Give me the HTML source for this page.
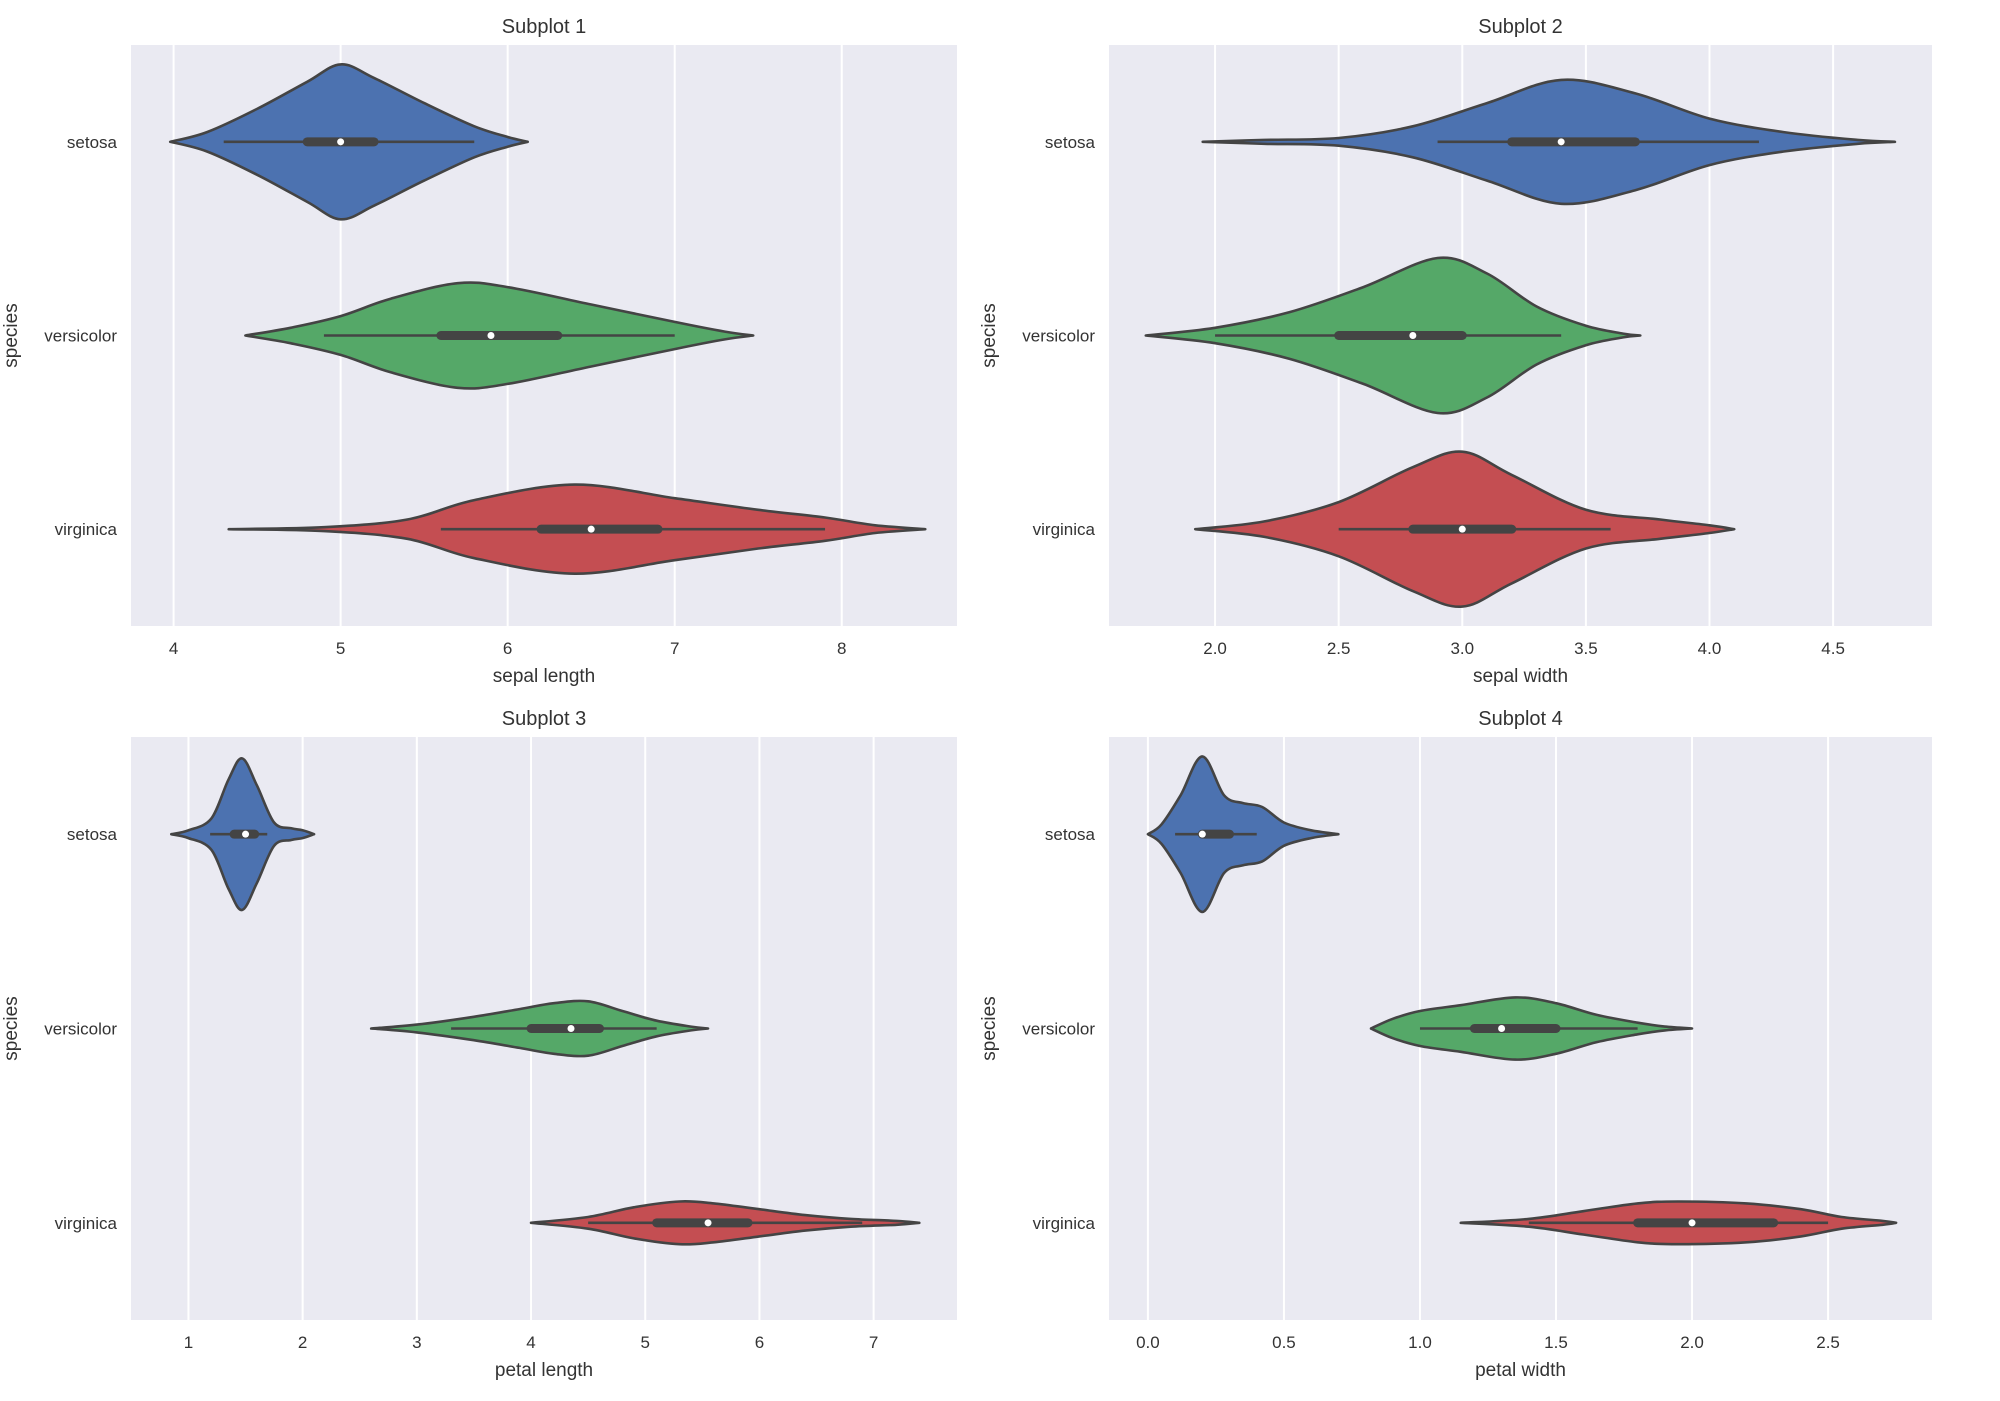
<!DOCTYPE html>
<html><head><meta charset="utf-8"><style>
html,body{margin:0;padding:0;background:#fff}
svg{display:block}
text{font-family:"Liberation Sans",sans-serif;fill:#333}
</style></head><body>
<svg id="fig" width="2000" height="1401" viewBox="0 0 2000 1401" xmlns="http://www.w3.org/2000/svg"></svg>
<script>
const species = ["setosa","versicolor","virginica"];
const colors = ["#4c72b0","#55a868","#c44e52"];
const titles = ["Subplot 1","Subplot 2","Subplot 3","Subplot 4"];
const xLabels = ["sepal length","sepal width","petal length","petal width"];
const xTicks1 = [4,5,6,7,8];
const xTickLabels1 = ["4","5","6","7","8"];
const xTicks2 = [2.0,2.5,3.0,3.5,4.0,4.5];
const xTickLabels2 = ["2.0","2.5","3.0","3.5","4.0","4.5"];
const xTicks3 = [1,2,3,4,5,6,7];
const xTickLabels3 = ["1","2","3","4","5","6","7"];
const xTicks4 = [0.0,0.5,1.0,1.5,2.0,2.5];
const xTickLabels4 = ["0.0","0.5","1.0","1.5","2.0","2.5"];
const xDomains = [[3.745,8.69],[1.571,4.90],[0.497,7.73],[-0.143,2.882]];

// density profiles: [value, half-width in category units]
const sepalLengthSetosa = [[3.98,0],[4.2,0.05],[4.5,0.17],[4.8,0.31],[5.0,0.40],[5.2,0.33],[5.5,0.2],[5.8,0.08],[6.0,0.025],[6.12,0]];
const sepalLengthVersicolor = [[4.43,0],[4.7,0.04],[5.0,0.1],[5.3,0.19],[5.7,0.27],[6.0,0.25],[6.5,0.16],[7.0,0.07],[7.3,0.02],[7.47,0]];
const sepalLengthVirginica = [[4.33,0],[4.9,0.01],[5.4,0.05],[5.8,0.15],[6.4,0.23],[7.0,0.16],[7.5,0.1],[7.9,0.06],[8.2,0.02],[8.5,0]];
const sepalWidthSetosa = [[1.95,0],[2.2,0.01],[2.5,0.02],[2.8,0.08],[3.1,0.2],[3.4,0.32],[3.7,0.25],[4.0,0.12],[4.3,0.05],[4.6,0.01],[4.75,0]];
const sepalWidthVersicolor = [[1.72,0],[2.0,0.04],[2.3,0.12],[2.6,0.25],[2.9,0.40],[3.1,0.32],[3.3,0.15],[3.5,0.05],[3.65,0.01],[3.72,0]];
const sepalWidthVirginica = [[1.92,0],[2.2,0.04],[2.5,0.14],[2.8,0.32],[3.0,0.40],[3.2,0.28],[3.5,0.1],[3.8,0.05],[4.0,0.02],[4.1,0]];
const petalLengthSetosa = [[0.85,0],[1.0,0.02],[1.2,0.08],[1.35,0.28],[1.47,0.39],[1.6,0.25],[1.75,0.06],[1.9,0.03],[2.0,0.02],[2.1,0]];
const petalLengthVersicolor = [[2.6,0],[3.0,0.02],[3.5,0.06],[3.9,0.1],[4.2,0.13],[4.5,0.14],[4.8,0.09],[5.1,0.04],[5.4,0.01],[5.55,0]];
const petalLengthVirginica = [[4.0,0],[4.5,0.03],[4.9,0.08],[5.3,0.11],[5.6,0.1],[6.0,0.07],[6.4,0.04],[6.8,0.02],[7.2,0.01],[7.4,0]];
const petalWidthSetosa = [[0.0,0],[0.05,0.05],[0.12,0.2],[0.2,0.40],[0.28,0.2],[0.35,0.16],[0.42,0.14],[0.5,0.06],[0.6,0.02],[0.7,0]];
const petalWidthVersicolor = [[0.82,0],[0.9,0.05],[1.0,0.09],[1.15,0.12],[1.35,0.16],[1.5,0.13],[1.65,0.07],[1.8,0.03],[1.9,0.01],[2.0,0]];
const petalWidthVirginica = [[1.15,0],[1.4,0.02],[1.6,0.06],[1.8,0.1],[1.95,0.11],[2.2,0.1],[2.4,0.07],[2.55,0.03],[2.7,0.01],[2.75,0]];
// box stats: [whiskerLow, q1, median, q3, whiskerHigh]
const boxSepalLength = [[4.3,4.8,5.0,5.2,5.8],[4.9,5.6,5.9,6.3,7.0],[5.6,6.2,6.5,6.9,7.9]];
const boxSepalWidth = [[2.9,3.2,3.4,3.7,4.2],[2.0,2.5,2.8,3.0,3.4],[2.5,2.8,3.0,3.2,3.6]];
const boxPetalLength = [[1.19,1.4,1.5,1.58,1.69],[3.3,4.0,4.35,4.6,5.1],[4.5,5.1,5.55,5.9,6.9]];
const boxPetalWidth = [[0.1,0.2,0.2,0.3,0.4],[1.0,1.2,1.3,1.5,1.8],[1.4,1.8,2.0,2.3,2.5]];

const panels = [
 {x:131,y:45,w:826,h:581,ticks:xTicks1,tl:xTickLabels1,prof:[sepalLengthSetosa,sepalLengthVersicolor,sepalLengthVirginica],box:boxSepalLength},
 {x:1109,y:45,w:823,h:581,ticks:xTicks2,tl:xTickLabels2,prof:[sepalWidthSetosa,sepalWidthVersicolor,sepalWidthVirginica],box:boxSepalWidth},
 {x:131,y:737,w:826,h:583,ticks:xTicks3,tl:xTickLabels3,prof:[petalLengthSetosa,petalLengthVersicolor,petalLengthVirginica],box:boxPetalLength},
 {x:1109,y:737,w:823,h:583,ticks:xTicks4,tl:xTickLabels4,prof:[petalWidthSetosa,petalWidthVersicolor,petalWidthVirginica],box:boxPetalWidth}
];
const NS="http://www.w3.org/2000/svg";
const svg=document.getElementById('fig');
function mk(tag,attrs,parent){const e=document.createElementNS(NS,tag);for(const k in attrs)e.setAttribute(k,attrs[k]);(parent||svg).appendChild(e);return e;}
function smooth(pts){let d="M"+pts[0][0]+","+pts[0][1];for(let i=0;i<pts.length-1;i++){const p0=pts[Math.max(0,i-1)],p1=pts[i],p2=pts[i+1],p3=pts[Math.min(pts.length-1,i+2)];const c1=[p1[0]+(p2[0]-p0[0])/6,p1[1]+(p2[1]-p0[1])/6];const c2=[p2[0]-(p3[0]-p1[0])/6,p2[1]-(p3[1]-p1[1])/6];d+=" C"+c1[0].toFixed(1)+","+c1[1].toFixed(1)+" "+c2[0].toFixed(1)+","+c2[1].toFixed(1)+" "+p2[0].toFixed(1)+","+p2[1].toFixed(1);}return d;}
panels.forEach((p,pi)=>{
  const g=mk('g',{});
  
  
  const [d0,d1]=xDomains[pi];
  const sx=v=>p.x+(v-d0)/(d1-d0)*p.w;
  const unit=p.h/3;
  const sy=c=>p.y+(c+0.5)*unit;
  const bg=mk('rect',{x:p.x,y:p.y,width:p.w,height:p.h,fill:'#eaeaf2'},g);
  
  
  p.ticks.forEach((t,i)=>{
    const gl=mk('line',{x1:sx(t),x2:sx(t),y1:p.y,y2:p.y+p.h,stroke:'#fff','stroke-width':2},g);
    
    
    const tx=mk('text',{x:sx(t),y:p.y+p.h+28,'text-anchor':'middle','font-size':17},g);
    tx.textContent=p.tl[i];
    
    
  });
  species.forEach((s,c)=>{
    const tx=mk('text',{x:p.x-14,y:sy(c)+6,'text-anchor':'end','font-size':17},g);
    tx.textContent=s;
    
    
    const prof=p.prof[c];
    const top=prof.map(q=>[sx(q[0]),sy(c)-q[1]*unit]);
    const bot=prof.slice().reverse().map(q=>[sx(q[0]),sy(c)+q[1]*unit]);
    const d=smooth(top)+" L"+smooth(bot).slice(1)+" Z";
    const v=mk('path',{d:d,fill:colors[c],stroke:'#444','stroke-width':2.6,'stroke-linejoin':'round'},g);
    
    
    const b=p.box[c];
    const w=mk('line',{x1:sx(b[0]),x2:sx(b[4]),y1:sy(c),y2:sy(c),stroke:'#444','stroke-width':2.6},g);
    
    
    const q=mk('line',{x1:sx(b[1]),x2:sx(b[3]),y1:sy(c),y2:sy(c),stroke:'#444','stroke-width':9,'stroke-linecap':'round'},g);
    
    
    const m=mk('circle',{cx:sx(b[2]),cy:sy(c),r:3.5,fill:'#fff'},g);
    
    
  });
  const t=mk('text',{x:p.x+p.w/2,y:p.y-12,'text-anchor':'middle','font-size':20},g);
  t.textContent=titles[pi];
  
  
  const xl=mk('text',{x:p.x+p.w/2,y:p.y+p.h+56,'text-anchor':'middle','font-size':19},g);
  xl.textContent=xLabels[pi];
  
  
  const yx=p.x-114, yy=p.y+p.h/2;
  const yl=mk('text',{x:yx,y:yy,'text-anchor':'middle','font-size':19,transform:'rotate(-90 '+yx+' '+yy+')'},g);
  yl.textContent='species';
  
  
});
</script>
</body></html>
